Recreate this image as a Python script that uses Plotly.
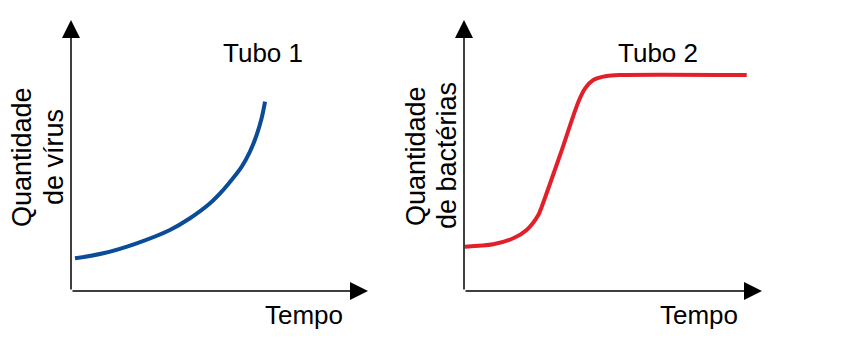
import plotly.graph_objects as go

# ---- data ----
tempo_virus = [0.0, 1.48, 3.23, 4.97, 6.02, 7.07, 7.76, 8.20, 8.73, 9.16, 9.51, 9.77, 9.95]
qtd_virus = [12.07, 13.91, 17.60, 22.51, 26.83, 32.36, 37.27, 40.96, 45.87, 51.40, 57.56, 63.73, 69.85]

tempo_bact = [0.05, 1.53, 2.58, 3.28, 3.89, 4.07, 5.03, 5.99, 6.34, 6.77, 7.47, 8.17, 14.80]
qtd_bact = [16.35, 17.23, 19.45, 22.51, 28.04, 31.11, 50.18, 69.85, 74.80, 77.86, 79.34, 79.70, 79.70]

titulos = ["Tubo 1", "Tubo 2"]
rotulo_x = "Tempo"
rotulos_y = [["Quantidade", "de vírus"], ["Quantidade", "de bactérias"]]

FONT = "Liberation Sans, Arial, sans-serif"
OFF = 8  # page body margin
W, H = 855 - OFF, 362 - OFF


def fx(px):
    return (px - OFF) / W


def fy(py):
    return 1 - (py - OFF) / H


fig = go.Figure()
fig.add_trace(go.Scatter(x=tempo_virus, y=qtd_virus, mode="lines",
                         line=dict(color="#0b4c96", width=4, shape="spline", smoothing=1.0),
                         xaxis="x", yaxis="y", hoverinfo="skip"))
fig.add_trace(go.Scatter(x=tempo_bact, y=qtd_bact, mode="lines",
                         line=dict(color="#e1202a", width=4, shape="spline", smoothing=0.8),
                         xaxis="x2", yaxis="y2", hoverinfo="skip"))

hidden = dict(showgrid=False, zeroline=False, showticklabels=False, showline=False, ticks="")
fig.update_layout(
    width=W, height=H,
    margin=dict(l=0, r=0, t=0, b=0),
    paper_bgcolor="white", plot_bgcolor="white",
    showlegend=False,
    font=dict(family=FONT, color="black"),
    xaxis=dict(domain=[fx(71), fx(368)], range=[-0.209, 15.34], **hidden),
    yaxis=dict(domain=[fy(291), fy(20)], range=[0, 100], **hidden),
    xaxis2=dict(domain=[fx(464), fx(762)], range=[0, 15.60], anchor="y2", **hidden),
    yaxis2=dict(domain=[fy(291), fy(20)], range=[0, 100], anchor="x2", **hidden),
)

annotations = []
for i, (xa, ya) in enumerate([("x", "y"), ("x2", "y2")]):
    length_x = 297 if i == 0 else 298
    annotations.append(dict(xref=f"{xa} domain", yref=f"{ya} domain", x=1, y=0,
                            axref="pixel", ayref="pixel", ax=-length_x, ay=0,
                            text="", showarrow=True, arrowhead=2, arrowsize=2.4,
                            arrowwidth=1.5, arrowcolor="black", standoff=0))
    annotations.append(dict(xref=f"{xa} domain", yref=f"{ya} domain", x=0, y=1,
                            axref="pixel", ayref="pixel", ax=0, ay=271,
                            text="", showarrow=True, arrowhead=2, arrowsize=2.4,
                            arrowwidth=1.5, arrowcolor="black", standoff=0))


def label(x, y, text, size, angle=0):
    annotations.append(dict(xref="paper", yref="paper", x=fx(x), y=fy(y), text=text,
                            xanchor="center", yanchor="middle", showarrow=False,
                            textangle=angle, font=dict(size=size)))


label(263, 53, titulos[0], 26)
label(658, 53, titulos[1], 26)
label(304, 315, rotulo_x, 26)
label(699, 315, rotulo_x, 26)
label(22, 157, rotulos_y[0][0], 27, -90)
label(54, 157, rotulos_y[0][1], 27, -90)
label(416, 156, rotulos_y[1][0], 27, -90)
label(447, 156, rotulos_y[1][1], 27, -90)

fig.update_layout(annotations=annotations)
fig.write_html("out.html")
